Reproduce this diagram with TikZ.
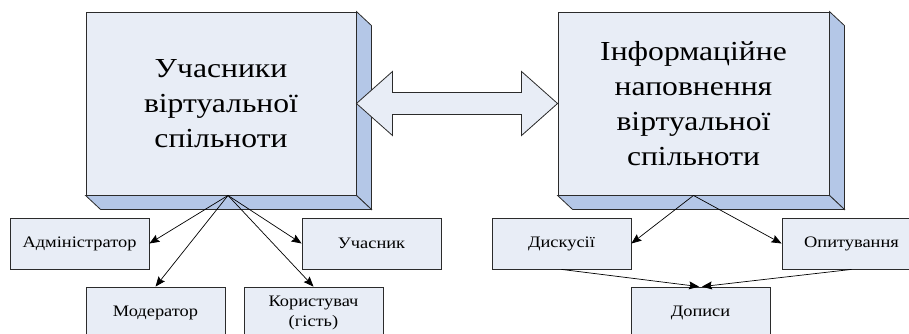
\documentclass[tikz,border=0pt]{standalone}
\usepackage{fontspec}
\setmainfont{Liberation Serif}[FakeStretch=1.15]
\usetikzlibrary{arrows.meta, calc, positioning}
\definecolor{frontfill}{HTML}{E8EDF6}
\definecolor{depthfill}{HTML}{B4C7E7}
\definecolor{edge}{HTML}{2B2B2B}
\tikzstyle{bigbox} = [rectangle, minimum width=270pt, minimum height=183pt, text width=250pt, align=center, draw=edge, fill=frontfill, line width=0.9pt, font=\fontsize{27.5}{35}\selectfont, inner sep=0pt]
\tikzstyle{smallbox} = [rectangle, minimum width=139pt, minimum height=51pt, text width=135pt, align=center, draw=edge, fill=frontfill, line width=0.8pt, font=\fontsize{16}{20}\selectfont, inner sep=0pt]
\tikzstyle{depth} = [draw=edge, fill=depthfill, line width=0.8pt, line join=miter]
\tikzstyle{arrow} = [line width=0.7pt, -{Stealth[length=10pt,width=8pt,inset=1.5pt]}]

\begin{document}
\begin{tikzpicture}[x=1pt, y=-1pt]
    \useasboundingbox (0,0) rectangle (909,333);
    \clip (0,0) rectangle (909,333);
    % tri-d boxes
    \node (uch) [bigbox] at (221,103.5) {Учасники\\віртуальної\\спільноти};
    \node (inf) [bigbox, minimum width=271pt] at (693.5,103.5) {Інформаційне\\наповнення\\віртуальної\\спільноти};
    \foreach \b in {uch, inf} {
        \draw [depth] (\b.north east) -- ++(15,14) -- ($(\b.south east)+(15,14)$) -- (\b.south east) -- cycle;
        \draw [depth] (\b.south west) -- ++(15,14) -- ($(\b.south east)+(15,14)$) -- (\b.south east) -- cycle;
    }
    \draw [depth, fill=frontfill] (uch.east) -- ++(36,-32) -- ++(0,21) -- ($(inf.west)+(-36,-11)$) -- ++(0,-21) -- (inf.west) -- ++(-36,32) -- ++(0,-21) -- ($(uch.east)+(36,11)$) -- ++(0,21) -- cycle;

    % left group
    \node (adm) [smallbox] at (79.5,243.5) {Адміністратор};
    \node (uchn) [smallbox] at (371.5,243.5) {Учасник};
    \node (mod) [smallbox] at (155.5,312.5) {Модератор};
    \node (kor) [smallbox] at (313.5,312.5) {Користувач\\(гість)};
    \coordinate (uchroot) at ($(uch.south)+(7,0)$);
    \draw [arrow] (uchroot) -- (adm.east);
    \draw [arrow] (uchroot) -- (uchn.west);
    \draw [arrow] (uchroot) -- (mod.north);
    \draw [arrow] (uchroot) -- (kor.north);

    % right group
    \node (dys) [smallbox] at (561.5,243.5) {Дискусії};
    \node (opyt) [smallbox] at (851.5,243.5) {Опитування};
    \node (dop) [smallbox] at (700.5,312.5) {Дописи};
    \draw [arrow] (inf.south) -- (dys.east);
    \draw [arrow] (inf.south) -- (opyt.west);
    \draw [arrow] (dys.south) -- ($(dop.north)+(-1.5,0)$);
    \draw [arrow] (opyt.south) -- ($(dop.north)+(1.5,0)$);
\end{tikzpicture}
\end{document}
